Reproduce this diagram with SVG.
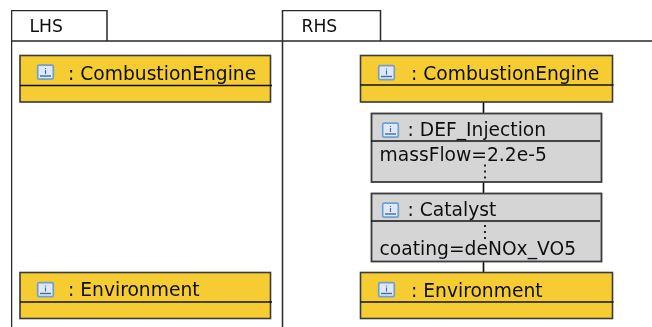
<svg xmlns="http://www.w3.org/2000/svg" width="652" height="327" viewBox="0 0 652 327">
<style>
text{font-family:"DejaVu Sans",sans-serif;fill:#111;font-size:18.7px}
.tab{font-size:17.2px}
.line{fill:none;stroke:#2a2a2a;stroke-width:1.5}
.y{fill:#f5cc33;stroke:#3a3a3a;stroke-width:1.6}
.g{fill:#d5d5d5;stroke:#3a3a3a;stroke-width:1.8}
.d{stroke:#111;stroke-width:1.3}
.c{fill:none;stroke:#111;stroke-width:1.6}
.dots{fill:none;stroke:#222;stroke-width:2;stroke-dasharray:2 4}
</style>
<defs>
<filter id="soft" x="0" y="0" width="100%" height="100%"><feGaussianBlur stdDeviation="0.3"/></filter>
<clipPath id="rhsclip"><rect x="290" y="12" width="47" height="28"/></clipPath>
<g id="icon">
<rect x="0.7" y="0.7" width="15.6" height="14" rx="1.5" fill="#dfe9f5" stroke="#6f9fd0" stroke-width="1.7"/>
<path d="M8.500 3.500v1M8.500 5.500v4" stroke="#3d6ea5" stroke-width="1.2" fill="none"/>
<path d="M3 11.500h11" stroke="#3d6ea5" stroke-width="1.4" fill="none"/>
</g>
</defs>
<rect width="652" height="327" fill="#fff"/>
<g filter="url(#soft)">
<g id="frames">
<path class="line" d="M11.500 41V10.500H107V41"/>
<path class="line" d="M282.500 41V10.500H380.500V41"/>
<path class="line" d="M11.500 327V41H652"/>
<path class="line" d="M282.500 41V327"/>
<text class="tab" x="29.500" y="32">LHS</text>
<text class="tab" x="301.500" y="32" clip-path="url(#rhsclip)">RHS</text>
</g>
<g id="connectors">
<path class="c" d="M483.500 102V113M483.500 182V193M483.500 261V272"/>
</g>
<g id="lhs-engine">
<rect class="y" x="20" y="55.500" width="250.500" height="46.500"/>
<path class="d" d="M20 85.500H272"/>
<use href="#icon" x="37" y="64.500"/>
<text x="68" y="80">: CombustionEngine</text>
</g>
<g id="lhs-environment">
<rect class="y" x="20" y="272.500" width="250.500" height="46"/>
<path class="d" d="M20 302H272"/>
<use href="#icon" x="37" y="282"/>
<text x="68" y="296">: Environment</text>
</g>
<g id="rhs-engine">
<rect class="y" x="360.500" y="55.500" width="252" height="46.500"/>
<path class="d" d="M360.500 85H613.500"/>
<use href="#icon" x="378" y="65"/>
<text x="411" y="80">: CombustionEngine</text>
</g>
<g id="def-injection">
<rect class="g" x="371.500" y="113.500" width="230" height="68.500"/>
<path class="d" d="M371.500 141H600"/>
<use href="#icon" x="382" y="122.500"/>
<text x="407.500" y="136">: DEF_Injection</text>
<text x="379.500" y="161">massFlow=2.2e-5</text>
<path class="dots" d="M485 164.500V179"/>
</g>
<g id="catalyst">
<rect class="g" x="371.500" y="193.500" width="230" height="68"/>
<path class="d" d="M371.500 221H600"/>
<use href="#icon" x="382" y="202.500"/>
<text x="407.500" y="216">: Catalyst</text>
<path class="dots" d="M485 225V240"/>
<text x="379.500" y="254.500">coating=deNOx_VO5</text>
</g>
<g id="rhs-environment">
<rect class="y" x="360.500" y="272.500" width="252" height="46"/>
<path class="d" d="M360.500 302H613.500"/>
<use href="#icon" x="378" y="282"/>
<text x="411" y="296.500">: Environment</text>
</g>
</g>
</svg>
